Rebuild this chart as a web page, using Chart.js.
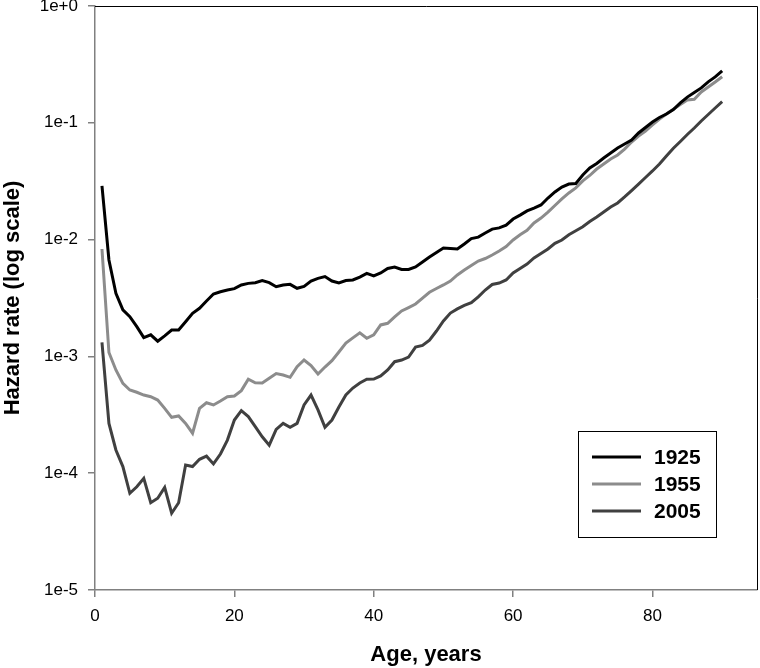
<!DOCTYPE html>
<html>
<head>
<meta charset="utf-8">
<script src="https://cdn.jsdelivr.net/npm/chart.js@4.4.1/dist/chart.umd.min.js"></script>
<style>
  html, body { margin: 0; padding: 0; background: #ffffff; }
  #wrap { width: 760px; height: 668px; }
</style>
</head>
<body>
<div id="wrap"><canvas id="c" width="760" height="668"></canvas></div>
<script>
const ages = [
  1,2,3,4,5,6,7,8,9,10,
  11,12,13,14,15,16,17,18,19,20,
  21,22,23,24,25,26,27,28,29,30,
  31,32,33,34,35,36,37,38,39,40,
  41,42,43,44,45,46,47,48,49,50,
  51,52,53,54,55,56,57,58,59,60,
  61,62,63,64,65,66,67,68,69,70,
  71,72,73,74,75,76,77,78,79,80,
  81,82,83,84,85,86,87,88,89,90
];

const s1925 = [
  0.0289,0.00669,0.00347,0.0025,0.00219,0.0018,0.00145,0.00153,0.00135,0.0015,
  0.00168,0.00168,0.00198,0.00234,0.00258,0.00298,0.00342,0.00358,0.0037,0.0038,
  0.00409,0.00422,0.00428,0.00445,0.00428,0.00395,0.00409,0.00414,0.00383,0.00397,
  0.00442,0.00466,0.00483,0.00442,0.00425,0.00446,0.00451,0.00478,0.00513,0.00488,
  0.00518,0.00566,0.00583,0.00555,0.00555,0.00583,0.00643,0.0071,0.00776,0.00847,
  0.00839,0.00831,0.00917,0.0102,0.0105,0.0114,0.0123,0.0126,0.0133,0.015,
  0.0162,0.0176,0.0186,0.0198,0.0227,0.0256,0.0282,0.0299,0.0302,0.0357,
  0.041,0.0448,0.05,0.0551,0.0608,0.0658,0.0712,0.0818,0.0912,0.1016,
  0.111,0.119,0.13,0.148,0.166,0.182,0.199,0.224,0.247,0.279
];

const s1955 = [
  0.00831,0.00108,0.000765,0.000588,0.000516,0.000493,0.000467,0.000452,0.000423,0.000359,
  0.000301,0.000309,0.000267,0.00022,0.000359,0.000401,0.000384,0.000415,0.000452,0.000458,
  0.000509,0.000637,0.000595,0.000592,0.00065,0.000714,0.000693,0.000662,0.000816,0.000931,
  0.000836,0.000707,0.000811,0.000919,0.00109,0.0013,0.00144,0.00159,0.00143,0.00153,
  0.00186,0.00192,0.00218,0.00245,0.00262,0.00281,0.00316,0.00354,0.00381,0.00409,
  0.00442,0.00498,0.00549,0.006,0.00656,0.00689,0.00738,0.00799,0.00873,0.00992,
  0.011,0.012,0.0139,0.0153,0.0172,0.0196,0.0223,0.0251,0.0277,0.0318,
  0.0354,0.0402,0.0444,0.049,0.053,0.0596,0.0685,0.0771,0.0851,0.0958,
  0.1078,0.119,0.1305,0.1434,0.1567,0.1589,0.1835,0.2025,0.2235,0.248
];

const s2005 = [
  0.00132,0.000267,0.000158,0.000114,0.0000673,0.0000766,0.0000904,0.0000559,0.000061,0.0000757,
  0.0000454,0.0000559,0.0001175,0.000114,0.0001315,0.00014,0.00012,0.000146,0.000192,0.000285,
  0.000343,0.000305,0.00025,0.000205,0.000174,0.000237,0.000267,0.000247,0.000267,0.000384,
  0.000467,0.000348,0.000247,0.000285,0.000369,0.000467,0.000536,0.000592,0.000637,0.00064,
  0.00068,0.000765,0.000901,0.000931,0.000988,0.0012,0.00124,0.00138,0.00165,0.00201,
  0.00235,0.00255,0.00273,0.00288,0.00323,0.0037,0.00413,0.00425,0.00451,0.00518,
  0.00566,0.00618,0.00696,0.0076,0.00831,0.0093,0.00992,0.011,0.0119,0.0129,
  0.0143,0.0156,0.0172,0.019,0.0206,0.0232,0.0263,0.0299,0.034,0.0387,
  0.0444,0.052,0.0605,0.0692,0.0794,0.0903,0.1036,0.1178,0.1339,0.1516
];

const seriesLabels = ['1925', '1955', '2005'];
const seriesColors = ['#000000', '#8c8c8c', '#404040'];

const xTicks = [0, 20, 40, 60, 80];
const yTicks = [1e-5, 1e-4, 1e-3, 1e-2, 1e-1, 1];
const yTickLabels = ['1e-5', '1e-4', '1e-3', '1e-2', '1e-1', '1e+0'];

const FONT = "'Liberation Sans', Arial, Helvetica, sans-serif";
const AXIS_GREY = '#808080';

function pts(vals) { return ages.map((a, i) => ({ x: a, y: vals[i] })); }

const allSeries = [s1925, s1955, s2005];

const frameAndLegend = {
  id: 'frameAndLegend',
  afterDraw(chart) {
    const ctx = chart.ctx;
    const a = chart.chartArea;
    ctx.save();
    // top & right frame
    ctx.strokeStyle = '#000000';
    ctx.lineWidth = 1;
    ctx.beginPath();
    ctx.moveTo(a.left, a.top + 0.5);
    ctx.lineTo(a.right + 0.5, a.top + 0.5);
    ctx.lineTo(a.right + 0.5, a.bottom);
    ctx.stroke();

    // legend
    const bx = a.left + 483, by = a.top + 425, bw = 138, bh = 106;
    ctx.fillStyle = '#ffffff';
    ctx.fillRect(bx, by, bw, bh);
    ctx.strokeStyle = '#000000';
    ctx.lineWidth = 1;
    ctx.strokeRect(bx + 0.5, by + 0.5, bw, bh);
    ctx.font = "bold 21px " + FONT;
    ctx.textBaseline = 'middle';
    ctx.textAlign = 'left';
    chart.data.datasets.forEach((ds, i) => {
      const yy = by + 26 + i * 27;
      ctx.strokeStyle = ds.borderColor;
      ctx.lineWidth = 3;
      ctx.beginPath();
      ctx.moveTo(bx + 14, yy);
      ctx.lineTo(bx + 63, yy);
      ctx.stroke();
      ctx.fillStyle = '#000000';
      ctx.fillText(ds.label, bx + 76, yy + 1);
    });
    ctx.restore();
  }
};

new Chart(document.getElementById('c'), {
  type: 'line',
  data: {
    datasets: allSeries.map((s, i) => ({
      label: seriesLabels[i],
      data: pts(s),
      borderColor: seriesColors[i],
      backgroundColor: seriesColors[i],
      borderWidth: 3,
      pointRadius: 0,
      tension: 0,
      fill: false
    }))
  },
  options: {
    responsive: false,
    animation: false,
    devicePixelRatio: 1,
    layout: { padding: { top: 6, right: 3, bottom: 0, left: 0 } },
    plugins: {
      legend: { display: false },
      tooltip: { enabled: false }
    },
    scales: {
      x: {
        type: 'linear',
        min: 0,
        max: 95,
        afterBuildTicks(scale) { scale.ticks = xTicks.map(v => ({ value: v })); },
        afterFit(scale) { scale.height = 78; scale.paddingLeft = 0; scale.paddingRight = 0; },
        ticks: {
          color: '#000000',
          font: { family: FONT, size: 17 },
          padding: 9,
          maxRotation: 0,
          autoSkip: false,
          callback: (v) => String(v)
        },
        grid: {
          display: true,
          drawOnChartArea: false,
          drawTicks: true,
          tickLength: 7,
          color: AXIS_GREY,
          lineWidth: 1.5
        },
        border: { display: true, color: AXIS_GREY, width: 1.5 },
        title: {
          display: true,
          text: 'Age, years',
          color: '#000000',
          font: { family: FONT, size: 22, weight: 'bold' },
          padding: { top: 0, bottom: 0 }
        }
      },
      y: {
        type: 'logarithmic',
        min: 1e-5,
        max: 1,
        afterBuildTicks(scale) { scale.ticks = yTicks.map(v => ({ value: v })); },
        afterFit(scale) { scale.width = 95; scale.paddingTop = 0; scale.paddingBottom = 0; },
        ticks: {
          color: '#000000',
          font: { family: FONT, size: 17 },
          padding: 10,
          autoSkip: false,
          callback: (v) => {
            const i = yTicks.findIndex(t => Math.abs(Math.log10(t) - Math.log10(v)) < 1e-6);
            return i >= 0 ? yTickLabels[i] : '';
          }
        },
        grid: {
          display: true,
          drawOnChartArea: false,
          drawTicks: true,
          tickLength: 7,
          color: AXIS_GREY,
          lineWidth: 1.5
        },
        border: { display: true, color: AXIS_GREY, width: 1.5 },
        title: {
          display: true,
          text: 'Hazard rate (log scale)',
          color: '#000000',
          font: { family: FONT, size: 22, weight: 'bold' },
          padding: { top: 0, bottom: 0 }
        }
      }
    }
  },
  plugins: [frameAndLegend]
});
</script>
</body>
</html>
